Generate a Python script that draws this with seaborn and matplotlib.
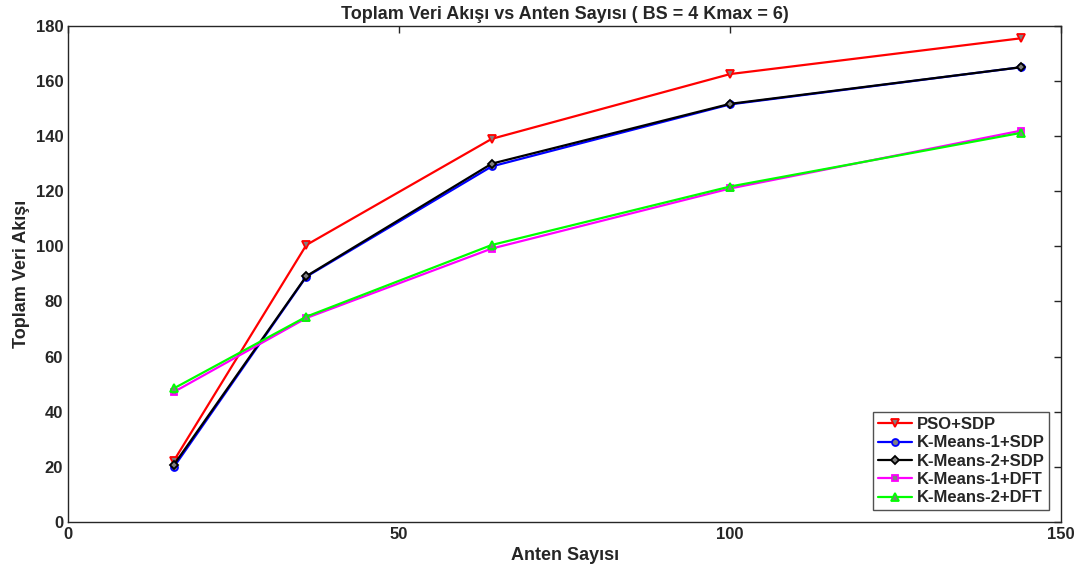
import pandas as pd
import matplotlib
matplotlib.use("Agg")
import matplotlib.pyplot as plt
import seaborn as sns

# data
anten = [16, 36, 64, 100, 144]
pso_sdp = [22.3, 100.5, 139, 162.5, 175.5]
km1_sdp = [20, 89, 129, 151.5, 165]
km2_sdp = [20.8, 89.2, 130, 151.7, 165]
km1_dft = [47.2, 74, 99.2, 121, 142]
km2_dft = [48.5, 74.5, 100.5, 121.7, 141.2]

names = ["PSO+SDP", "K-Means-1+SDP", "K-Means-2+SDP", "K-Means-1+DFT", "K-Means-2+DFT"]
values = [pso_sdp, km1_sdp, km2_sdp, km1_dft, km2_dft]
colors = ["#ff0000", "#0000ff", "#000000", "#ff00ff", "#00ff00"]
markers = ["v", "o", "D", "s", "^"]
msizes = [6, 5, 4.5, 5, 6]

rows = []
for n, v in zip(names, values):
    for a, y in zip(anten, v):
        rows.append({"Anten": a, "Veri": y, "Yontem": n})
df = pd.DataFrame(rows)

sns.set_style("white")
plt.rcParams["font.family"] = ["Liberation Sans", "DejaVu Sans"]
plt.rcParams["font.weight"] = "bold"

fig = plt.figure(figsize=(10.83, 5.79), dpi=100)
ax = fig.add_axes([0.0628, 0.0984, 0.917, 0.857])

for n, c, m, ms in zip(names, colors, markers, msizes):
    sns.lineplot(data=df[df["Yontem"] == n], x="Anten", y="Veri", color=c,
                 marker=m, markersize=ms, markerfacecolor="#808080",
                 markeredgecolor=c, markeredgewidth=1.3, linewidth=1.6,
                 label=n, ax=ax)

ax.set_xlim(0, 150)
ax.set_ylim(0, 180)
ax.set_xticks([0, 50, 100, 150])
ax.set_yticks(range(0, 181, 20))
ax.tick_params(direction="in", length=5, width=1, labelsize=12, top=True, right=True,
               colors="#262626")
for lbl in ax.get_xticklabels() + ax.get_yticklabels():
    lbl.set_fontweight("bold")
for s in ax.spines.values():
    s.set_visible(True)
    s.set_color("#262626")
    s.set_linewidth(1)

ax.set_title("Toplam Veri Akışı vs Anten Sayısı ( BS = 4 Kmax = 6)", fontsize=13,
             fontweight="bold", pad=5)
ax.set_xlabel("Anten Sayısı", fontsize=13, fontweight="bold", labelpad=4)
ax.set_ylabel("Toplam Veri Akışı", fontsize=13, fontweight="bold", labelpad=4)

leg = ax.legend(loc="lower right", frameon=True, fancybox=False,
                borderpad=0.3, labelspacing=0.2, handlelength=2.0,
                handletextpad=0.3, borderaxespad=0.7, prop={"weight": "bold", "size": 12})
leg.get_frame().set_edgecolor("#262626")
leg.get_frame().set_linewidth(1)

fig.savefig("out.png", dpi=100)
